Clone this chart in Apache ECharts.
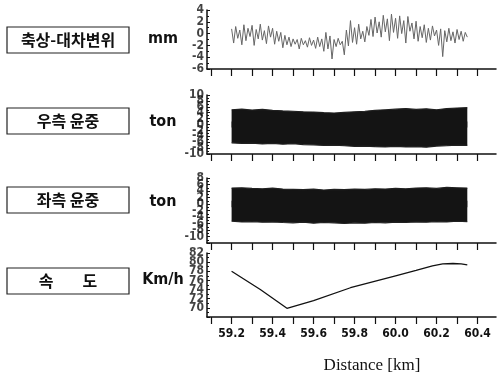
<!DOCTYPE html>
<html>
<head>
<meta charset="utf-8">
<script src="https://cdn.jsdelivr.net/npm/echarts@6/dist/echarts.min.js"></script>
<style>
  html, body { margin: 0; padding: 0; background: #fff; }
  #main { width: 497px; height: 376px; }
</style>
</head>
<body>
<div id="main"></div>
<script>
// ---- data ----
var panelNames = ['축상-대차변위', '우측 윤중', '좌측 윤중', '속        도'];
var unitNames = ['mm', 'ton', 'ton', 'Km/h'];

var xTicks = [59.1, 59.2, 59.3, 59.4, 59.5, 59.6, 59.7, 59.8, 59.9, 60.0, 60.1, 60.2, 60.3, 60.4];
var xLabels = [59.2, 59.4, 59.6, 59.8, 60.0, 60.2, 60.4];

var yLabelsDisp = [-6, -4, -2, 0, 2, 4];
var yLabelsRight = [-10, -8, -6, -4, -2, 0, 2, 4, 6, 8, 10];
var yLabelsLeft = [-10, -8, -6, -4, -2, 0, 2, 4, 6, 8];
var yLabelsSpeed = [70, 72, 74, 76, 78, 80, 82];

// axle-bogie displacement, every 0.01 km from 59.20
var dispStart = 59.2;
var dispStep = 0.01;
var disp = [
  0.8, -1.6, 1.2, -0.8, 0.6, -1.9, 1.5, -1.2, 0.9, -0.5,
  1.4, -2.0, 0.7, -0.9, 1.6, -1.1, 0.5, -1.7, 1.3, -0.6,
  0.9, -1.8, 0.4, -1.3, 0.2, -2.4, -0.3, -1.9, -0.6, -2.2,
  -0.9, -1.8, -1.0, -2.6, -0.8, -1.9, -1.2, -2.3, -0.7, -2.0,
  -1.1, -2.5, -0.6, -2.2, -0.9, -3.0, 0.2, -2.6, -0.4, -4.3,
  -1.0, -2.2, -0.8, -1.9, -1.3, -3.6, 0.6, -2.1, 2.2, -1.5,
  1.0, -1.8, 1.6, -0.9, 0.4, -1.4, 1.2, -0.3, 2.4, -0.5,
  2.8, 0.1, 2.0, -0.6, 3.1, 0.3, 2.5, -1.2, 3.3, 0.2,
  2.6, -0.8, 3.0, 0.0, 2.2, -1.6, 2.9, 0.4, 1.8, -0.9,
  2.1, -1.3, 1.2, -0.7, 1.5, -1.5, 0.9, -1.1, 1.3, -0.4,
  0.6, -2.0, 0.8, -3.9, 0.5, -1.4, 0.9, -1.2, 0.3, -1.6,
  0.7, -1.0, 0.4, -1.3, 0.2, -0.6
];

// wheel load envelopes, every 0.05 km from 59.20
var loadDist = [59.2, 59.25, 59.3, 59.35, 59.4, 59.45, 59.5, 59.55, 59.6, 59.65, 59.7, 59.75,
  59.8, 59.85, 59.9, 59.95, 60.0, 60.05, 60.1, 60.15, 60.2, 60.25, 60.3, 60.35];
var rightUpper = [5.0, 5.2, 4.9, 5.1, 4.8, 4.6, 4.5, 4.3, 4.2, 4.0, 3.9, 4.1,
  4.3, 4.5, 4.8, 5.0, 5.2, 5.4, 5.1, 5.3, 5.0, 5.4, 5.6, 5.7];
var rightLower = [-6.2, -6.4, -6.3, -6.6, -6.4, -6.7, -6.5, -6.8, -6.9, -7.1, -7.0, -7.2,
  -7.4, -7.3, -7.5, -7.6, -7.4, -7.6, -7.5, -7.7, -7.3, -7.2, -7.0, -7.1];
var leftUpper = [4.9, 5.0, 4.8, 4.7, 4.9, 4.6, 4.5, 4.4, 4.6, 4.3, 4.5, 4.4,
  4.6, 4.5, 4.7, 4.6, 4.8, 4.7, 4.9, 5.0, 4.8, 5.1, 5.0, 4.9];
var leftLower = [-5.3, -5.5, -5.4, -5.6, -5.5, -5.7, -5.8, -5.6, -5.9, -5.7, -5.8, -6.0,
  -5.8, -5.9, -5.7, -5.8, -5.6, -5.7, -5.5, -5.6, -5.4, -5.5, -5.3, -5.4];

// speed
var speedDist = [59.2, 59.34, 59.47, 59.6, 59.78, 60.0, 60.1, 60.18, 60.23, 60.28, 60.32, 60.35];
var speed = [78.0, 74.0, 69.9, 71.6, 74.4, 77.0, 78.2, 79.2, 79.6, 79.7, 79.6, 79.4];

// ---- build ----
var narrow = '"Liberation Sans Narrow", "DejaVu Sans Condensed", sans-serif';
var xMin = 59.08, xMax = 60.49;
var myChart = echarts.init(document.getElementById('main'));

function pairs(xs, ys) {
  return ys.map(function (v, i) { return [xs[i], v]; });
}
var dispData = disp.map(function (v, i) {
  return [+(dispStart + i * dispStep).toFixed(2), v];
});

var grids = [
  { left: 207, right: 1, top: 10, height: 59 },
  { left: 207, right: 1, top: 95, height: 59 },
  { left: 207, right: 1, top: 178, height: 65 },
  { left: 207, right: 1, top: 253, height: 64 }
];
var yRanges = [[-6, 4], [-10, 10], [-12, 8], [68, 82]];
var yLabelSets = [yLabelsDisp, yLabelsRight, yLabelsLeft, yLabelsSpeed];

var xAxes = grids.map(function (g, i) {
  return {
    type: 'value', gridIndex: i, min: xMin, max: xMax, z: 5,
    axisLine: { onZero: false, lineStyle: { color: '#111', width: 1.5 } },
    axisTick: { customValues: xTicks, length: 7, lineStyle: { color: '#111', width: 1.2 } },
    axisLabel: {
      show: i === 3, customValues: xLabels, margin: 11,
      fontFamily: narrow, fontWeight: 'bold', fontSize: 12, color: '#111',
      formatter: function (v) { return v.toFixed(1); }
    },
    splitLine: { show: false }
  };
});
var yAxes = grids.map(function (g, i) {
  return {
    type: 'value', gridIndex: i, min: yRanges[i][0], max: yRanges[i][1], interval: 2, z: 5,
    axisLine: { show: true, onZero: false, lineStyle: { color: '#111', width: 1.5 } },
    axisTick: { inside: true, length: 3, lineStyle: { color: '#111' } },
    minorTick: { show: true, splitNumber: 2, length: 2, lineStyle: { color: '#111' } },
    axisLabel: { show: false },
    splitLine: { show: false }
  };
});

// y tick labels: the packed, overlapping labels of the scan are drawn as
// scatter labels on the axis so none of them gets hidden
var yLabelSeries = yLabelSets.map(function (vals, i) {
  return {
    type: 'scatter', xAxisIndex: i, yAxisIndex: i, silent: true, clip: false,
    symbolSize: 0, z: 6,
    data: vals.map(function (v) { return [xMin, v]; }),
    label: {
      show: true, position: 'left', distance: 3,
      fontFamily: narrow, fontWeight: 'bold', fontSize: 12, color: '#111',
      formatter: function (p) { return String(p.value[1]); }
    },
    labelLayout: { hideOverlap: false }
  };
});

var graphics = [];
var boxY = [27, 108, 187, 268];
var unitY = [39, 122, 202, 280];
panelNames.forEach(function (name, i) {
  graphics.push({
    type: 'rect', shape: { x: 7, y: boxY[i], width: 122, height: 26 },
    style: { fill: '#fff', stroke: '#222', lineWidth: 1.2 }
  });
  graphics.push({
    type: 'text', x: 68, y: boxY[i] + 13,
    style: {
      text: name, align: 'center', verticalAlign: 'middle', fill: '#111',
      font: 'bold 16px "Noto Sans CJK KR", sans-serif'
    }
  });
  graphics.push({
    type: 'text', x: 163, y: unitY[i],
    style: {
      text: unitNames[i], align: 'center', verticalAlign: 'middle', fill: '#111',
      font: 'bold 16px ' + narrow
    }
  });
});
graphics.push({
  type: 'text', x: 372, y: 366,
  style: {
    text: 'Distance [km]', align: 'center', verticalAlign: 'middle', fill: '#111',
    font: '17px "Liberation Serif", "DejaVu Serif", serif'
  }
});

// band drawn as two area lines, each filled a little past 0 so they overlap
function band(idx, up, lo) {
  var st = { color: '#202020', width: 1.2 };
  return [
    {
      type: 'line', xAxisIndex: idx, yAxisIndex: idx, data: pairs(loadDist, up), symbol: 'none',
      silent: true, lineStyle: st, areaStyle: { color: '#141414', opacity: 1, origin: -1 }
    },
    {
      type: 'line', xAxisIndex: idx, yAxisIndex: idx, data: pairs(loadDist, lo), symbol: 'none',
      silent: true, lineStyle: st, areaStyle: { color: '#141414', opacity: 1, origin: 1 }
    }
  ];
}

var option = {
  animation: false,
  backgroundColor: '#fff',
  grid: grids,
  xAxis: xAxes,
  yAxis: yAxes,
  graphic: graphics,
  series: [
    {
      type: 'line', xAxisIndex: 0, yAxisIndex: 0, data: dispData, symbol: 'none',
      lineStyle: { color: '#666', width: 1 }
    }
  ].concat(band(1, rightUpper, rightLower))
   .concat(band(2, leftUpper, leftLower))
   .concat([{
      type: 'line', xAxisIndex: 3, yAxisIndex: 3, data: pairs(speedDist, speed), symbol: 'none',
      lineStyle: { color: '#111', width: 1.3 }
   }])
   .concat(yLabelSeries)
};
myChart.setOption(option);
</script>
</body>
</html>
